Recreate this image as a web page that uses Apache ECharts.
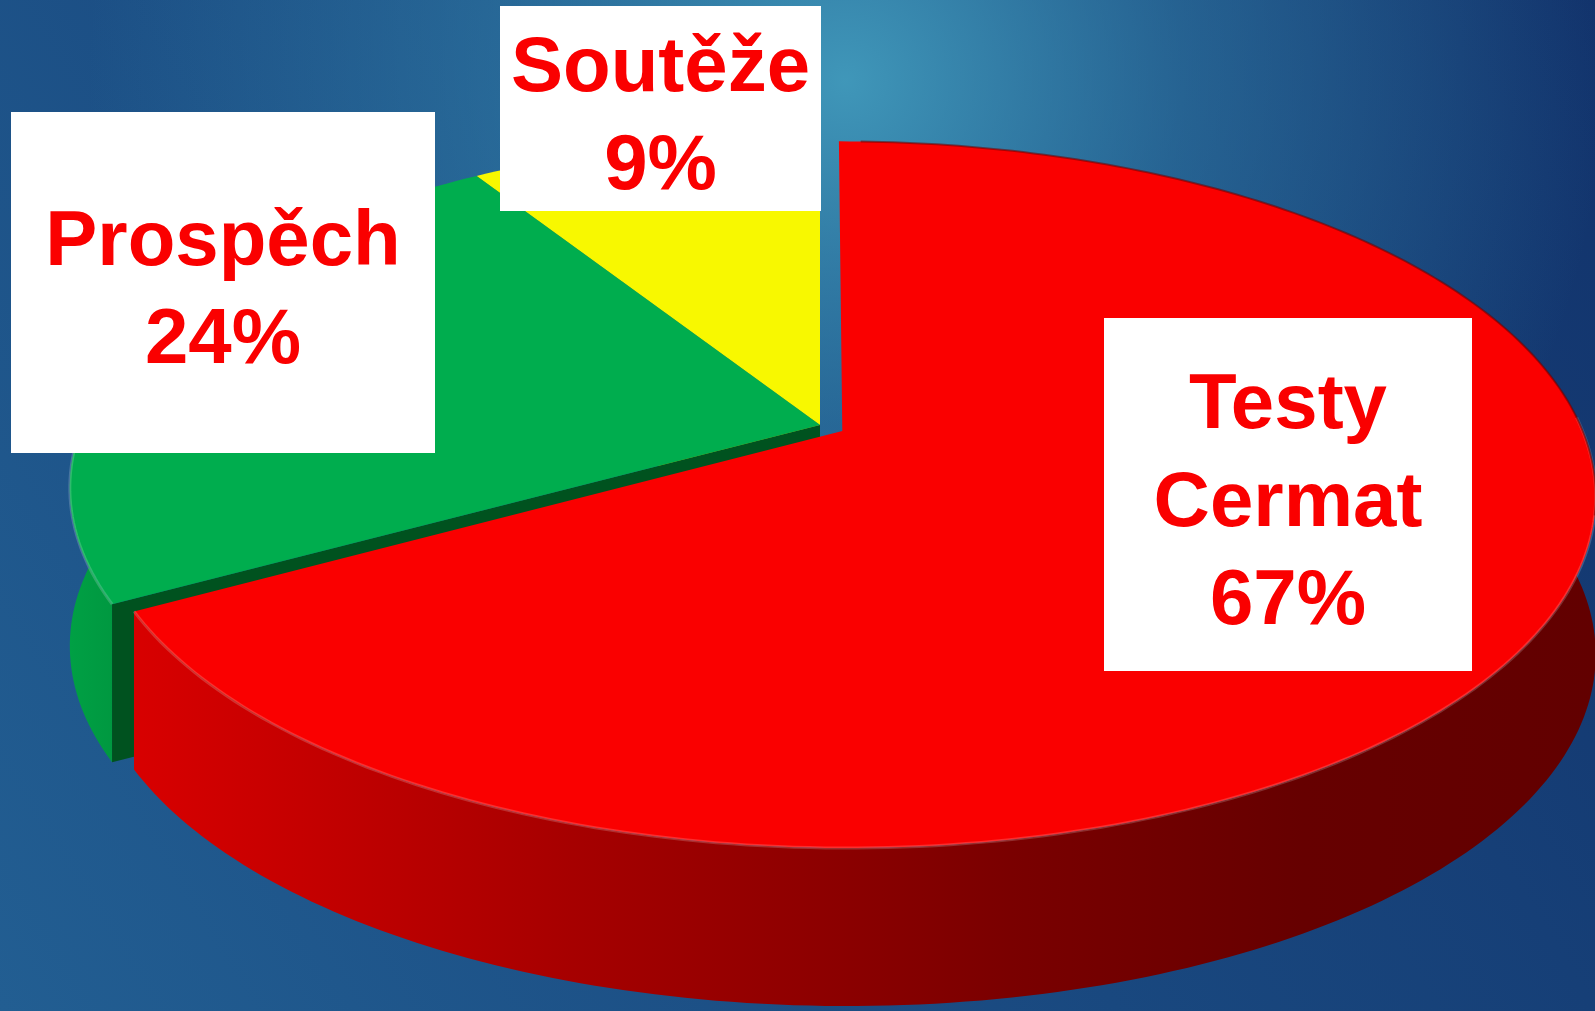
<!DOCTYPE html>
<html>
<head>
<meta charset="utf-8">
<script src="https://cdn.jsdelivr.net/npm/echarts@6/dist/echarts.min.js"></script>
<style>
html,body{margin:0;padding:0;overflow:hidden;background:#1a4a80}
#main{width:1595px;height:1011px}
</style>
</head>
<body>
<div id="main"></div>
<script>
// data, clockwise from 12 o'clock
var names = ['Testy\nCermat', 'Prospěch', 'Soutěže'];
var values = [67, 24, 9];
var exploded = [true, false, false];

// styles
var topColors = ['#fa0000', '#00ad4e', '#f8f800'];
var cutColors = ['#8a0000', '#00521f', '#a0a000'];
var sideStops = [
	[[0, '#d80000'], [0.3, '#a60000'], [0.6, '#7a0000'], [0.8, '#660000'], [1, '#620000']],
	[[0, '#00a044'], [1, '#008f3c']],
	[[0, '#b0b000'], [1, '#909000']]
];
// label boxes [x, y, w, h]
var labelBoxes = [[1104, 318, 368, 353], [11, 112, 424, 341], [500, 6, 321, 205]];

// perspective of the pie plane
var CX = 820, CY = 425, RX = 738, KY = 339.7, PC = -0.1795, DEPTH = 158, EXPLODE = 0.035;

var total = values.reduce(function(a, b){ return a + b; }, 0);
var cum = [0];
values.forEach(function(v, i){ cum.push(cum[i] + v); });

function proj(u, v){
	var s = 1 + PC * v;
	return [CX + RX * u / s, CY + KY * v / s];
}
function down(p){ return [p[0], p[1] + DEPTH]; }

function midV(i){
	var m = (cum[i] + cum[i + 1]) / 2 / total * Math.PI * 2;
	return -Math.cos(m) + (exploded[i] ? 10 : 0);
}
// painter order: back slices first
var order = values.map(function(v, i){ return i; }).sort(function(a, b){ return midV(a) - midV(b); });

function renderItem(params, api){
	var i = params.dataIndex;
	var rank = order.indexOf(i);
	var a0 = cum[i] / total * Math.PI * 2;
	var a1 = cum[i + 1] / total * Math.PI * 2;
	var am = (a0 + a1) / 2;
	var sh = exploded[i] ? EXPLODE : 0;
	var su = sh * Math.sin(am), sv = -sh * Math.cos(am);
	var apex = proj(su, sv);
	var n = Math.max(2, Math.ceil((a1 - a0) / (Math.PI / 180)));
	var arc = [], front = [], back = [], wall = [];
	for (var k = 0; k <= n; k++) {
		var t = a0 + (a1 - a0) * k / n;
		var p = proj(su + Math.sin(t), sv - Math.cos(t));
		arc.push(p);
		if (-Math.cos(t) > -0.05) front.push(p);
		if (-Math.cos(t) < 0.25) back.push(p);
		if (-Math.cos(t) > -0.35) wall.push(p);
	}
	var z = rank * 10;
	var children = [];
	if (wall.length > 1) {
		children.push({
			type: 'polygon', z2: z + 1,
			shape: { points: wall.concat(wall.slice().reverse().map(down)) },
			style: { fill: { type: 'linear', x: 0, y: 0, x2: 1, y2: 0, colorStops: sideStops[i].map(function(s){ return { offset: s[0], color: s[1] }; }) } }
		});
	}
	if (Math.sin(a0) < -0.01) {
		children.push({
			type: 'polygon', z2: z + 2,
			shape: { points: [apex, arc[0], down(arc[0]), down(apex)] },
			style: { fill: cutColors[i] }
		});
	}
	children.push({
		type: 'polygon', z2: z + 3,
		shape: { points: [apex].concat(arc) },
		style: { fill: topColors[i] }
	});
	if (front.length > 1) {
		children.push({
			type: 'polyline', z2: z + 4,
			shape: { points: front },
			style: { stroke: 'rgba(255,255,255,0.18)', lineWidth: 3, fill: null }
		});
	}
	if (back.length > 1 && exploded[i]) {
		children.push({
			type: 'polyline', z2: z + 4,
			shape: { points: back.slice(2) },
			style: { stroke: 'rgba(110,0,0,0.55)', lineWidth: 2, fill: null }
		});
	}
	var b = labelBoxes[i];
	children.push({
		type: 'rect', z2: 100,
		shape: { x: b[0], y: b[1], width: b[2], height: b[3] },
		style: { fill: '#ffffff' }
	});
	children.push({
		type: 'text', z2: 101,
		x: b[0] + b[2] / 2, y: b[1] + b[3] / 2 + 10,
		style: {
			text: names[i] + '\n' + Math.round(values[i] / total * 100) + '%',
			fill: '#fa0000',
			font: 'bold 78px "Liberation Sans", Arial, sans-serif',
			lineHeight: 98,
			textAlign: 'center',
			textVerticalAlign: 'middle'
		}
	});
	return { type: 'group', children: children };
}

var chart = echarts.init(document.getElementById('main'));
chart.setOption({
	animation: false,
	graphic: [{
		type: 'rect', z: -20,
		shape: { x: 0, y: 0, width: 1595, height: 1011 },
		style: { fill: { type: 'linear', x: 0, y: 1, x2: 1, y2: 0, colorStops: [
			{ offset: 0, color: '#225e92' },
			{ offset: 0.5, color: '#19487f' },
			{ offset: 1, color: '#12336c' }
		] } }
	}, {
		type: 'rect', z: -10,
		shape: { x: 0, y: 0, width: 1595, height: 1011 },
		style: { fill: { type: 'radial', x: 0.53, y: 0.08, r: 0.75, colorStops: [
			{ offset: 0, color: 'rgba(68,160,192,0.9)' },
			{ offset: 0.45, color: 'rgba(58,145,182,0.45)' },
			{ offset: 1, color: 'rgba(58,145,182,0)' }
		] } }
	}],
	series: [{
		type: 'custom',
		coordinateSystem: 'none',
		silent: true,
		data: values.map(function(v, i){ return { name: names[i], value: v }; }),
		renderItem: renderItem
	}]
});
</script>
</body>
</html>
